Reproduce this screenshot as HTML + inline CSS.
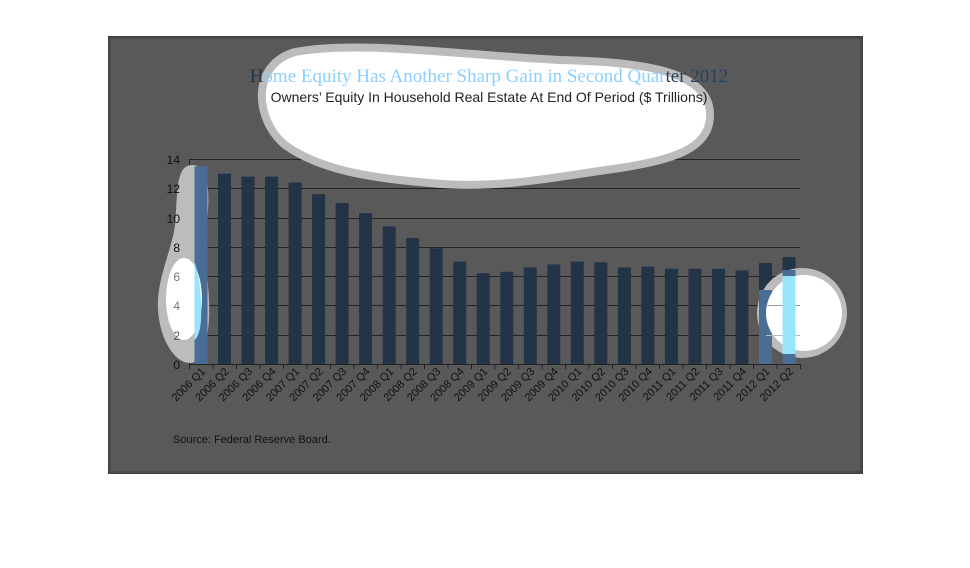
<!DOCTYPE html>
<html><head><meta charset="utf-8"><style>
html,body{margin:0;padding:0;background:#fff;width:970px;height:568px;overflow:hidden}
svg{display:block}
</style></head><body>
<svg width="970" height="568" viewBox="0 0 970 568" xmlns="http://www.w3.org/2000/svg" font-family="Liberation Sans, sans-serif">
<rect x="108" y="36" width="755" height="438" fill="#404040"/>
<rect x="110" y="38" width="751" height="434" fill="#595959" stroke="#4a4a4a" stroke-width="2"/>
<g stroke="#222" stroke-width="1">
<line x1="189" y1="159.5" x2="800" y2="159.5"/>
<line x1="189" y1="188.5" x2="800" y2="188.5"/>
<line x1="189" y1="218.5" x2="800" y2="218.5"/>
<line x1="189" y1="247.5" x2="800" y2="247.5"/>
<line x1="189" y1="276.5" x2="800" y2="276.5"/>
<line x1="189" y1="305.5" x2="800" y2="305.5"/>
<line x1="189" y1="335.5" x2="800" y2="335.5"/>
<line x1="189" y1="364.5" x2="800" y2="364.5"/>
<line x1="189.5" y1="159" x2="189.5" y2="364"/>
</g>
<g stroke="#222" stroke-width="1">
<line x1="189.5" y1="364" x2="189.5" y2="369"/><line x1="213" y1="364" x2="213" y2="369"/><line x1="236.5" y1="364" x2="236.5" y2="369"/><line x1="260" y1="364" x2="260" y2="369"/><line x1="283.5" y1="364" x2="283.5" y2="369"/><line x1="307" y1="364" x2="307" y2="369"/><line x1="330.5" y1="364" x2="330.5" y2="369"/><line x1="354" y1="364" x2="354" y2="369"/><line x1="377.5" y1="364" x2="377.5" y2="369"/><line x1="401" y1="364" x2="401" y2="369"/><line x1="424.5" y1="364" x2="424.5" y2="369"/><line x1="448" y1="364" x2="448" y2="369"/><line x1="471.5" y1="364" x2="471.5" y2="369"/><line x1="495" y1="364" x2="495" y2="369"/><line x1="518.5" y1="364" x2="518.5" y2="369"/><line x1="542" y1="364" x2="542" y2="369"/><line x1="565.5" y1="364" x2="565.5" y2="369"/><line x1="589" y1="364" x2="589" y2="369"/><line x1="612.5" y1="364" x2="612.5" y2="369"/><line x1="636" y1="364" x2="636" y2="369"/><line x1="659.5" y1="364" x2="659.5" y2="369"/><line x1="683" y1="364" x2="683" y2="369"/><line x1="706.5" y1="364" x2="706.5" y2="369"/><line x1="730" y1="364" x2="730" y2="369"/><line x1="753.5" y1="364" x2="753.5" y2="369"/><line x1="777" y1="364" x2="777" y2="369"/><line x1="800.5" y1="364" x2="800.5" y2="369"/>
</g>
<g fill="#243447">
<rect x="194.5" y="166.4" width="13" height="197.6"/>
<rect x="218" y="173.7" width="13" height="190.3"/>
<rect x="241.5" y="176.6" width="13" height="187.4"/>
<rect x="265.1" y="176.6" width="13" height="187.4"/>
<rect x="288.6" y="182.5" width="13" height="181.5"/>
<rect x="312.1" y="194.2" width="13" height="169.8"/>
<rect x="335.6" y="203" width="13" height="161"/>
<rect x="359.1" y="213.2" width="13" height="150.8"/>
<rect x="382.7" y="226.4" width="13" height="137.6"/>
<rect x="406.2" y="238.1" width="13" height="125.9"/>
<rect x="429.7" y="248.3" width="13" height="115.7"/>
<rect x="453.2" y="261.5" width="13" height="102.5"/>
<rect x="476.7" y="273.2" width="13" height="90.8"/>
<rect x="500.3" y="271.8" width="13" height="92.2"/>
<rect x="523.8" y="267.4" width="13" height="96.6"/>
<rect x="547.3" y="264.4" width="13" height="99.6"/>
<rect x="570.8" y="261.5" width="13" height="102.5"/>
<rect x="594.3" y="262.3" width="13" height="101.7"/>
<rect x="617.9" y="267.4" width="13" height="96.6"/>
<rect x="641.4" y="266.6" width="13" height="97.4"/>
<rect x="664.9" y="268.8" width="13" height="95.2"/>
<rect x="688.4" y="268.8" width="13" height="95.2"/>
<rect x="711.9" y="268.8" width="13" height="95.2"/>
<rect x="735.5" y="270.3" width="13" height="93.7"/>
<rect x="759" y="263" width="13" height="101"/>
<rect x="782.5" y="257.1" width="13" height="106.9"/>
</g>
<!-- title blob -->
<path d="M295 52 C360 40 460 55 560 60 C640 62 710 70 710 115 C710 150 670 160 620 168 C560 176 500 190 430 183 C370 178 320 170 285 145 C255 120 250 65 295 52 Z" fill="#fff" stroke="#bcbcbc" stroke-width="8"/>
<!-- left blob -->
<path d="M192 165 C212 165 210 200 205 240 C205 270 212 300 208 330 C205 355 198 363 190 363 C175 363 160 340 158 310 C156 280 172 250 175 225 C178 195 175 165 192 165 Z" fill="#bcbcbc"/>
<rect x="194.5" y="166.4" width="13" height="197.6" fill="#4a6d96"/>
<ellipse cx="184" cy="299" rx="18" ry="41" fill="#fff"/>
<path d="M194.5 262 C199 275 202 295 201 320 C200 333 197 338 194.5 340 Z" fill="#99e5ff"/>
<!-- right circle -->
<circle cx="802" cy="313" r="45" fill="#bcbcbc"/>
<rect x="759" y="290" width="13" height="74" fill="#4a6d96"/>
<rect x="782.5" y="270" width="13" height="94" fill="#4a6d96"/>
<circle cx="804" cy="313" r="38" fill="#fff"/>
<line x1="766" y1="305.5" x2="800" y2="305.5" stroke="#999"/>
<line x1="766" y1="335.5" x2="800" y2="335.5" stroke="#bbb"/>
<rect x="782.5" y="276" width="13" height="78" fill="#99e5ff"/>
<g font-size="12" fill="#111" text-anchor="end">
<text x="180" y="164">14</text><text x="180" y="193">12</text><text x="180" y="223">10</text><text x="180" y="252">8</text><text x="180" y="281" fill="#777">6</text><text x="180" y="310" fill="#777">4</text><text x="180" y="340" fill="#555">2</text><text x="180" y="369">0</text>
</g>
<text x="489" y="82" text-anchor="middle" font-family="Liberation Serif, serif" font-size="19" fill="#8ccfff"><tspan fill="#243447">H</tspan>ome Equity Has Another Sharp Gain in Second Quar<tspan fill="#2a4060">ter 2012</tspan></text>
<text x="489" y="102" text-anchor="middle" font-size="14" fill="#222">Owners’ Equity In Household Real Estate At End Of Period ($ Trillions)</text>
<g font-size="11" fill="#111" text-anchor="end">
<text transform="translate(206,372) rotate(-45)">2006 Q1</text>
<text transform="translate(229.5,372) rotate(-45)">2006 Q2</text>
<text transform="translate(253,372) rotate(-45)">2006 Q3</text>
<text transform="translate(276.6,372) rotate(-45)">2006 Q4</text>
<text transform="translate(300.1,372) rotate(-45)">2007 Q1</text>
<text transform="translate(323.6,372) rotate(-45)">2007 Q2</text>
<text transform="translate(347.1,372) rotate(-45)">2007 Q3</text>
<text transform="translate(370.6,372) rotate(-45)">2007 Q4</text>
<text transform="translate(394.2,372) rotate(-45)">2008 Q1</text>
<text transform="translate(417.7,372) rotate(-45)">2008 Q2</text>
<text transform="translate(441.2,372) rotate(-45)">2008 Q3</text>
<text transform="translate(464.7,372) rotate(-45)">2008 Q4</text>
<text transform="translate(488.2,372) rotate(-45)">2009 Q1</text>
<text transform="translate(511.8,372) rotate(-45)">2009 Q2</text>
<text transform="translate(535.3,372) rotate(-45)">2009 Q3</text>
<text transform="translate(558.8,372) rotate(-45)">2009 Q4</text>
<text transform="translate(582.3,372) rotate(-45)">2010 Q1</text>
<text transform="translate(605.8,372) rotate(-45)">2010 Q2</text>
<text transform="translate(629.4,372) rotate(-45)">2010 Q3</text>
<text transform="translate(652.9,372) rotate(-45)">2010 Q4</text>
<text transform="translate(676.4,372) rotate(-45)">2011 Q1</text>
<text transform="translate(699.9,372) rotate(-45)">2011 Q2</text>
<text transform="translate(723.4,372) rotate(-45)">2011 Q3</text>
<text transform="translate(747,372) rotate(-45)">2011 Q4</text>
<text transform="translate(770.5,372) rotate(-45)">2012 Q1</text>
<text transform="translate(794,372) rotate(-45)">2012 Q2</text>
</g>
<text x="173" y="443" font-size="11" fill="#111">Source:  Federal Reserve Board.</text>
</svg>
</body></html>
